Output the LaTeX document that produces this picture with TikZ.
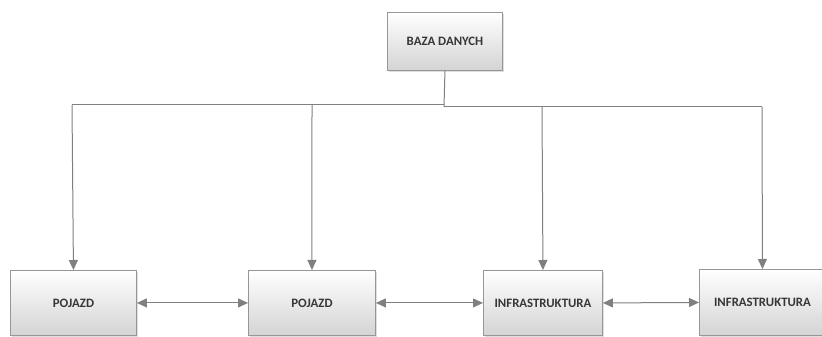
\documentclass[tikz,border=0pt]{standalone}
\usepackage{fontspec}
\setmainfont{Carlito}
\usetikzlibrary{arrows.meta,shadows}
\definecolor{linegray}{RGB}{128,128,128}
\definecolor{boxedge}{RGB}{150,150,150}
\definecolor{textgray}{RGB}{55,55,55}
\tikzset{
  tip/.tip={Triangle[length=10pt,width=9pt]},
  block/.style={draw=boxedge, line width=0.9pt, top color=white, bottom color=black!17,
    minimum height=#1, font=\bfseries\fontsize{12.8}{14}\selectfont, text=textgray,
    drop shadow={shadow xshift=1.2pt, shadow yshift=-1.2pt, opacity=0.25}},
  block/.default=58pt,
  link/.style={draw=linegray, line width=1pt, -tip},
  biline/.style={draw=linegray, line width=1pt, tip-tip},
  wire/.style={draw=linegray, line width=1pt}
}
\begin{document}
\begin{tikzpicture}[x=1pt,y=1pt]
\useasboundingbox (0,0) rectangle (822,337);
% top node
\node[block, minimum width=115pt, anchor=north west] (db) at (387,325) {BAZA DANYCH};
% bottom row
\node[block=65pt, minimum width=126pt, anchor=north west] (p1) at (10,67) {POJAZD};
\node[block=65pt, minimum width=127pt, anchor=north west] (p2) at (248,67) {POJAZD};
\node[block=65pt, minimum width=119pt, anchor=north west] (i1) at (483,67) {INFRASTRUKTURA};
\node[block=66pt, minimum width=126pt, anchor=north west] (i2) at (699,68) {INFRASTRUKTURA};
% distribution lines from the database
\coordinate (jl) at (444,232);
\coordinate (jr) at (444,230);
\coordinate (b1) at (72,232);
\coordinate (b2) at (312,232);
\coordinate (b3) at (542,230);
\coordinate (b4) at (762,230);
\draw[wire] (db.south) -- (jr);
\draw[wire] (jl) -- (b1);
\draw[wire] (jr) -- (b4);
\draw[link] (b1) -- (p1.north);
\draw[link] (b2) -- (p2.north);
\draw[link] (b3) -- (i1.north);
\draw[link] (b4) -- (i2.north);
% links between neighbours
\draw[biline] (p1.east) -- (p2.west);
\draw[biline] (p2.east) -- (i1.west);
\draw[biline] (i1.east) -- (i2.west);
\end{tikzpicture}
\end{document}
